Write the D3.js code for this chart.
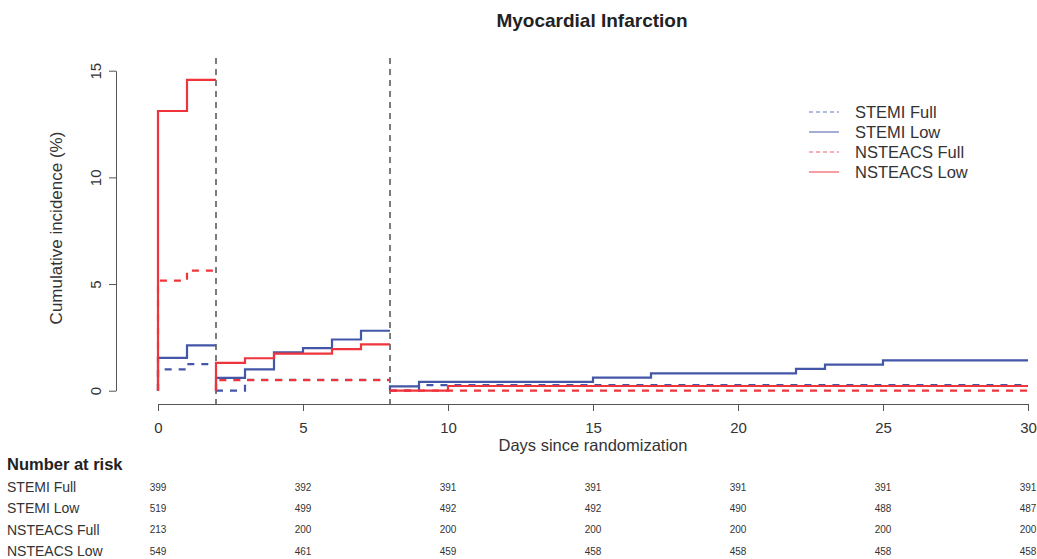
<!DOCTYPE html>
<html>
<head>
<meta charset="utf-8">
<script src="https://cdn.jsdelivr.net/npm/d3@7"></script>
<style>
  html, body { margin: 0; padding: 0; background: #fff; }
  svg { display: block; font-family: "Liberation Sans", Arial, Helvetica, sans-serif; }
</style>
</head>
<body>
<svg id="chart" width="1037" height="559"></svg>
<script>
// Landmark windows (days) — each curve restarts at 0 at the start of a window
const landmarks = [0, 2, 8, 30];

// Step events per window: [day, cumulative incidence %]
const stemiFull = [
  [[0, 1.00], [1, 1.25]],
  [[3, 0.51]],
  [[9, 0.26]]
];
const stemiLow = [
  [[0, 1.54], [1, 2.12]],
  [[2, 0.60], [3, 1.00], [4, 1.80], [5, 2.00], [6, 2.40], [7, 2.81]],
  [[8, 0.20], [9, 0.41], [15, 0.61], [17, 0.81], [22, 1.02], [23, 1.22], [25, 1.42]]
];
const nsteacsFull = [
  [[0, 5.16], [1, 5.63]],
  [[2, 0.50]],
  []
];
const nsteacsLow = [
  [[0, 13.11], [1, 14.57]],
  [[2, 1.30], [3, 1.52], [4, 1.74], [6, 1.95], [7, 2.17]],
  [[10, 0.22]]
];

const seriesNames = ["STEMI Full", "STEMI Low", "NSTEACS Full", "NSTEACS Low"];

// Number at risk table
const riskDays = [0, 5, 10, 15, 20, 25, 30];
const riskStemiFull = [399, 392, 391, 391, 391, 391, 391];
const riskStemiLow = [519, 499, 492, 492, 490, 488, 487];
const riskNsteacsFull = [213, 200, 200, 200, 200, 200, 200];
const riskNsteacsLow = [549, 461, 459, 458, 458, 458, 458];

const xTicks = [0, 5, 10, 15, 20, 25, 30];
const yTicks = [0, 5, 10, 15];

const blue = "#4356A8";
const red = "#EF343C";

const series = [
  { name: seriesNames[0], segs: stemiFull, color: blue, dash: "7,7", risk: riskStemiFull },
  { name: seriesNames[1], segs: stemiLow, color: blue, dash: null, risk: riskStemiLow },
  { name: seriesNames[2], segs: nsteacsFull, color: red, dash: "7,7", risk: riskNsteacsFull },
  { name: seriesNames[3], segs: nsteacsLow, color: red, dash: null, risk: riskNsteacsLow }
];

const svg = d3.select("#chart");

const x = d3.scaleLinear().domain([0, 30]).range([158, 1028]);
const y = d3.scaleLinear().domain([0, 15]).range([390.7, 70.7]);

// Title
svg.append("text")
  .attr("x", 592).attr("y", 20)
  .attr("text-anchor", "middle")
  .attr("dominant-baseline", "central")
  .attr("font-size", 19).attr("font-weight", "bold").attr("fill", "#222")
  .text("Myocardial Infarction");

// Landmark separators
svg.append("g").selectAll("line")
  .data(landmarks.slice(1, -1))
  .join("line")
  .attr("x1", d => x(d)).attr("x2", d => x(d))
  .attr("y1", 58).attr("y2", 404)
  .attr("stroke", "#666").attr("stroke-width", 1.7)
  .attr("stroke-dasharray", "6,5");

// Step curves
const line = d3.line()
  .x(d => x(d[0])).y(d => y(d[1]))
  .curve(d3.curveStepAfter);

const curves = svg.append("g").attr("fill", "none");
series.forEach(s => {
  s.segs.forEach((events, i) => {
    const start = landmarks[i], end = landmarks[i + 1];
    const pts = [[start, 0], ...events];
    pts.push([end, pts[pts.length - 1][1]]);
    curves.append("path")
      .attr("d", line(pts))
      .attr("stroke", s.color)
      .attr("stroke-width", 2.2)
      .attr("stroke-dasharray", s.dash)
      .attr("stroke-linejoin", "miter");
  });
});

// Y axis
const yAxis = svg.append("g")
  .attr("transform", "translate(116,0)")
  .call(d3.axisLeft(y).tickValues(yTicks).tickSize(7).tickSizeOuter(0).tickFormat(d3.format("d")));
yAxis.attr("font-family", null);
yAxis.select(".domain").attr("stroke", "#555");
yAxis.selectAll(".tick line").attr("stroke", "#555");
yAxis.selectAll(".tick text")
  .attr("font-size", 15).attr("fill", "#333")
  .attr("x", null).attr("dy", null)
  .attr("text-anchor", "middle")
  .attr("transform", "translate(-21,0) rotate(-90)")
  .attr("y", 0)
  .attr("dominant-baseline", "central");

svg.append("text")
  .attr("transform", "translate(56,228) rotate(-90)")
  .attr("text-anchor", "middle")
  .attr("dominant-baseline", "central")
  .attr("font-size", 17).attr("fill", "#333")
  .text("Cumulative incidence (%)");

// X axis
const xAxis = svg.append("g")
  .attr("transform", "translate(0,404)")
  .call(d3.axisBottom(x).tickValues(xTicks).tickSize(7).tickSizeOuter(0).tickFormat(d3.format("d")));
xAxis.attr("font-family", null);
xAxis.select(".domain").attr("stroke", "#555");
xAxis.selectAll(".tick line").attr("stroke", "#555");
xAxis.selectAll(".tick text")
  .attr("font-size", 15).attr("fill", "#333")
  .attr("y", 23).attr("dy", null)
  .attr("dominant-baseline", "central");

svg.append("text")
  .attr("x", 593).attr("y", 445)
  .attr("text-anchor", "middle")
  .attr("dominant-baseline", "central")
  .attr("font-size", 16.5).attr("fill", "#333")
  .text("Days since randomization");

// Legend
const legend = svg.append("g");
series.forEach((s, i) => {
  const ly = 112 + i * 20;
  legend.append("line")
    .attr("x1", 809).attr("x2", 839).attr("y1", ly).attr("y2", ly)
    .attr("stroke", s.color).attr("stroke-width", 1.2).attr("opacity", 0.8)
    .attr("stroke-dasharray", s.dash ? "4,3" : null);
  legend.append("text")
    .attr("x", 855).attr("y", ly)
    .attr("dominant-baseline", "central")
    .attr("font-size", 16.5).attr("fill", "#333")
    .text(s.name);
});

// Number at risk
svg.append("text")
  .attr("x", 7).attr("y", 464)
  .attr("dominant-baseline", "central")
  .attr("font-size", 16.5).attr("font-weight", "bold").attr("fill", "#222")
  .text("Number at risk");

const riskRow = d3.scalePoint().domain(seriesNames).range([487, 551]);
const risk = svg.append("g");
series.forEach(s => {
  const ry = riskRow(s.name);
  risk.append("text")
    .attr("x", 7).attr("y", ry)
    .attr("dominant-baseline", "central")
    .attr("font-size", 14).attr("fill", "#333")
    .text(s.name);
  risk.selectAll(null)
    .data(riskDays.map((d, j) => [d, s.risk[j]]))
    .join("text")
    .attr("x", d => x(d[0])).attr("y", ry)
    .attr("text-anchor", "middle")
    .attr("dominant-baseline", "central")
    .attr("font-size", 10).attr("fill", "#333")
    .text(d => d[1]);
});
</script>
</body>
</html>
